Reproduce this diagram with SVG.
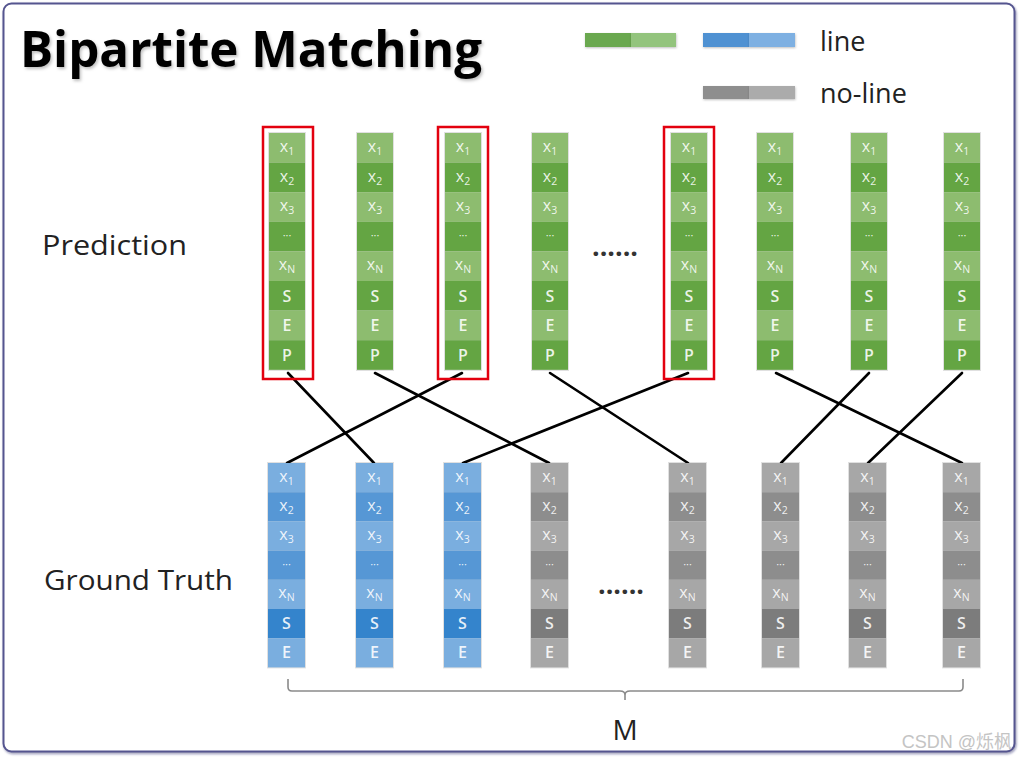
<svg xmlns="http://www.w3.org/2000/svg" width="1019" height="759" viewBox="0 0 1019 759">
<defs>
<filter id="tsh" x="-5%" y="-20%" width="110%" height="150%"><feDropShadow dx="1.5" dy="2" stdDeviation="1.5" flood-color="#000" flood-opacity="0.25"/></filter>
<filter id="lsh" x="-10%" y="-10%" width="120%" height="130%"><feDropShadow dx="0.5" dy="1" stdDeviation="1" flood-color="#000" flood-opacity="0.25"/></filter>
<filter id="bsh" x="-2%" y="-2%" width="104%" height="104%"><feDropShadow dx="1" dy="1.5" stdDeviation="1" flood-color="#1c1c5a" flood-opacity="0.45"/></filter>
</defs>
<style>
.sans{font-family:"Open Sans","Liberation Sans",sans-serif}
.title{font-family:"Open Sans","Liberation Sans",sans-serif;font-weight:700;font-size:51px;fill:#000}
.lbl{font-family:"Open Sans","Liberation Sans",sans-serif;font-size:28px;fill:#222}
.leg{font-family:"Open Sans","Liberation Sans",sans-serif;font-size:27px;fill:#222}
.sh{fill:#000;fill-opacity:0.12}
.gL{fill:#8dbc6f}.gD{fill:#64a543}
.bL{fill:#7aaedf}.bD{fill:#5697d5}.bS{fill:#3484cc}
.kL{fill:#a7a7a7}.kD{fill:#8d8d8d}.kS{fill:#7c7c7c}
.ct{font-family:"Open Sans","Liberation Sans",sans-serif;font-size:16px;fill:#fff;fill-opacity:0.88;text-anchor:middle}
.sb{font-size:10.5px}
.b{font-weight:600;font-size:16px}
.dt{font-size:11px}
.red{fill:none;stroke:#e3000f;stroke-width:2.5}
.con{stroke:#000;stroke-width:2.6;stroke-linecap:round;fill:none}
.brace{fill:none;stroke:#8a8a8a;stroke-width:1.6}
</style>
<rect x="0" y="0" width="1019" height="759" fill="#fff"/>
<rect x="3.5" y="3.5" width="1011" height="748" rx="8" fill="#fff" stroke="#54548f" stroke-width="2" filter="url(#bsh)"/>

<g id="title"><text class="title" x="20" y="67" textLength="462" lengthAdjust="spacingAndGlyphs" filter="url(#tsh)">Bipartite Matching</text></g>

<g id="legend">
<rect x="585" y="33" width="46" height="14" fill="#6aa84f" filter="url(#lsh)"/><rect x="631" y="33" width="45" height="14" fill="#93c47d" filter="url(#lsh)"/>
<rect x="703" y="33" width="46" height="14" fill="#4f91d2" filter="url(#lsh)"/><rect x="749" y="33" width="46" height="14" fill="#7eb0e2" filter="url(#lsh)"/>
<rect x="703" y="86" width="46" height="13" fill="#8e8e8e" filter="url(#lsh)"/><rect x="749" y="86" width="46" height="13" fill="#ababab" filter="url(#lsh)"/>
<text class="leg" x="820" y="51">line</text>
<text class="leg" x="820" y="103">no-line</text>
</g>

<g id="label-prediction"><text class="lbl" x="42" y="255" textLength="145" lengthAdjust="spacingAndGlyphs">Prediction</text></g>
<g id="label-gt"><text class="lbl" x="44" y="590" textLength="189" lengthAdjust="spacingAndGlyphs">Ground Truth</text></g>
<g id="dots-pred"><text class="sans" x="592" y="256" font-size="26" font-weight="700" fill="#333" textLength="46" lengthAdjust="spacingAndGlyphs">......</text></g>
<g id="dots-gt"><text class="sans" x="598" y="594" font-size="26" font-weight="700" fill="#333" textLength="46" lengthAdjust="spacingAndGlyphs">......</text></g>

<g id="connectors">
<line class="con" x1="288" y1="373" x2="374" y2="463"/>
<line class="con" x1="375" y1="373" x2="549" y2="463"/>
<line class="con" x1="462" y1="373" x2="287" y2="463"/>
<line class="con" x1="550" y1="373" x2="688" y2="463"/>
<line class="con" x1="688" y1="373" x2="463" y2="463"/>
<line class="con" x1="776" y1="373" x2="962" y2="463"/>
<line class="con" x1="869" y1="373" x2="781" y2="463"/>
<line class="con" x1="962" y1="373" x2="868" y2="463"/>
</g>

<g id="pred1" transform="translate(269,133)">
<rect class="sh" x="-1" y="-1" width="38" height="239"/>
<rect class="gL" y="0" width="36" height="29.6"/><rect class="gD" y="29.6" width="36" height="29.6"/><rect class="gL" y="59.2" width="36" height="29.6"/><rect class="gD" y="88.8" width="36" height="29.6"/><rect class="gL" y="118.4" width="36" height="29.6"/><rect class="gD" y="148" width="36" height="29.6"/><rect class="gL" y="177.6" width="36" height="29.6"/><rect class="gD" y="207.2" width="36" height="29.6"/>
<text class="ct" x="18" y="19">x<tspan class="sb" dy="3">1</tspan></text><text class="ct" x="18" y="48.6">x<tspan class="sb" dy="3">2</tspan></text><text class="ct" x="18" y="78.2">x<tspan class="sb" dy="3">3</tspan></text><text class="ct dt" x="18" y="106">···</text><text class="ct" x="18" y="137.4">x<tspan class="sb" dy="3">N</tspan></text><text class="ct b" x="18" y="168.5">S</text><text class="ct b" x="18" y="198">E</text><text class="ct b" x="18" y="227.6">P</text>
</g>
<g id="pred2" transform="translate(357,133)">
<rect class="sh" x="-1" y="-1" width="38" height="239"/>
<rect class="gL" y="0" width="36" height="29.6"/><rect class="gD" y="29.6" width="36" height="29.6"/><rect class="gL" y="59.2" width="36" height="29.6"/><rect class="gD" y="88.8" width="36" height="29.6"/><rect class="gL" y="118.4" width="36" height="29.6"/><rect class="gD" y="148" width="36" height="29.6"/><rect class="gL" y="177.6" width="36" height="29.6"/><rect class="gD" y="207.2" width="36" height="29.6"/>
<text class="ct" x="18" y="19">x<tspan class="sb" dy="3">1</tspan></text><text class="ct" x="18" y="48.6">x<tspan class="sb" dy="3">2</tspan></text><text class="ct" x="18" y="78.2">x<tspan class="sb" dy="3">3</tspan></text><text class="ct dt" x="18" y="106">···</text><text class="ct" x="18" y="137.4">x<tspan class="sb" dy="3">N</tspan></text><text class="ct b" x="18" y="168.5">S</text><text class="ct b" x="18" y="198">E</text><text class="ct b" x="18" y="227.6">P</text>
</g>
<g id="pred3" transform="translate(445,133)">
<rect class="sh" x="-1" y="-1" width="38" height="239"/>
<rect class="gL" y="0" width="36" height="29.6"/><rect class="gD" y="29.6" width="36" height="29.6"/><rect class="gL" y="59.2" width="36" height="29.6"/><rect class="gD" y="88.8" width="36" height="29.6"/><rect class="gL" y="118.4" width="36" height="29.6"/><rect class="gD" y="148" width="36" height="29.6"/><rect class="gL" y="177.6" width="36" height="29.6"/><rect class="gD" y="207.2" width="36" height="29.6"/>
<text class="ct" x="18" y="19">x<tspan class="sb" dy="3">1</tspan></text><text class="ct" x="18" y="48.6">x<tspan class="sb" dy="3">2</tspan></text><text class="ct" x="18" y="78.2">x<tspan class="sb" dy="3">3</tspan></text><text class="ct dt" x="18" y="106">···</text><text class="ct" x="18" y="137.4">x<tspan class="sb" dy="3">N</tspan></text><text class="ct b" x="18" y="168.5">S</text><text class="ct b" x="18" y="198">E</text><text class="ct b" x="18" y="227.6">P</text>
</g>
<g id="pred4" transform="translate(532,133)">
<rect class="sh" x="-1" y="-1" width="38" height="239"/>
<rect class="gL" y="0" width="36" height="29.6"/><rect class="gD" y="29.6" width="36" height="29.6"/><rect class="gL" y="59.2" width="36" height="29.6"/><rect class="gD" y="88.8" width="36" height="29.6"/><rect class="gL" y="118.4" width="36" height="29.6"/><rect class="gD" y="148" width="36" height="29.6"/><rect class="gL" y="177.6" width="36" height="29.6"/><rect class="gD" y="207.2" width="36" height="29.6"/>
<text class="ct" x="18" y="19">x<tspan class="sb" dy="3">1</tspan></text><text class="ct" x="18" y="48.6">x<tspan class="sb" dy="3">2</tspan></text><text class="ct" x="18" y="78.2">x<tspan class="sb" dy="3">3</tspan></text><text class="ct dt" x="18" y="106">···</text><text class="ct" x="18" y="137.4">x<tspan class="sb" dy="3">N</tspan></text><text class="ct b" x="18" y="168.5">S</text><text class="ct b" x="18" y="198">E</text><text class="ct b" x="18" y="227.6">P</text>
</g>
<g id="pred5" transform="translate(671,133)">
<rect class="sh" x="-1" y="-1" width="38" height="239"/>
<rect class="gL" y="0" width="36" height="29.6"/><rect class="gD" y="29.6" width="36" height="29.6"/><rect class="gL" y="59.2" width="36" height="29.6"/><rect class="gD" y="88.8" width="36" height="29.6"/><rect class="gL" y="118.4" width="36" height="29.6"/><rect class="gD" y="148" width="36" height="29.6"/><rect class="gL" y="177.6" width="36" height="29.6"/><rect class="gD" y="207.2" width="36" height="29.6"/>
<text class="ct" x="18" y="19">x<tspan class="sb" dy="3">1</tspan></text><text class="ct" x="18" y="48.6">x<tspan class="sb" dy="3">2</tspan></text><text class="ct" x="18" y="78.2">x<tspan class="sb" dy="3">3</tspan></text><text class="ct dt" x="18" y="106">···</text><text class="ct" x="18" y="137.4">x<tspan class="sb" dy="3">N</tspan></text><text class="ct b" x="18" y="168.5">S</text><text class="ct b" x="18" y="198">E</text><text class="ct b" x="18" y="227.6">P</text>
</g>
<g id="pred6" transform="translate(757,133)">
<rect class="sh" x="-1" y="-1" width="38" height="239"/>
<rect class="gL" y="0" width="36" height="29.6"/><rect class="gD" y="29.6" width="36" height="29.6"/><rect class="gL" y="59.2" width="36" height="29.6"/><rect class="gD" y="88.8" width="36" height="29.6"/><rect class="gL" y="118.4" width="36" height="29.6"/><rect class="gD" y="148" width="36" height="29.6"/><rect class="gL" y="177.6" width="36" height="29.6"/><rect class="gD" y="207.2" width="36" height="29.6"/>
<text class="ct" x="18" y="19">x<tspan class="sb" dy="3">1</tspan></text><text class="ct" x="18" y="48.6">x<tspan class="sb" dy="3">2</tspan></text><text class="ct" x="18" y="78.2">x<tspan class="sb" dy="3">3</tspan></text><text class="ct dt" x="18" y="106">···</text><text class="ct" x="18" y="137.4">x<tspan class="sb" dy="3">N</tspan></text><text class="ct b" x="18" y="168.5">S</text><text class="ct b" x="18" y="198">E</text><text class="ct b" x="18" y="227.6">P</text>
</g>
<g id="pred7" transform="translate(851,133)">
<rect class="sh" x="-1" y="-1" width="38" height="239"/>
<rect class="gL" y="0" width="36" height="29.6"/><rect class="gD" y="29.6" width="36" height="29.6"/><rect class="gL" y="59.2" width="36" height="29.6"/><rect class="gD" y="88.8" width="36" height="29.6"/><rect class="gL" y="118.4" width="36" height="29.6"/><rect class="gD" y="148" width="36" height="29.6"/><rect class="gL" y="177.6" width="36" height="29.6"/><rect class="gD" y="207.2" width="36" height="29.6"/>
<text class="ct" x="18" y="19">x<tspan class="sb" dy="3">1</tspan></text><text class="ct" x="18" y="48.6">x<tspan class="sb" dy="3">2</tspan></text><text class="ct" x="18" y="78.2">x<tspan class="sb" dy="3">3</tspan></text><text class="ct dt" x="18" y="106">···</text><text class="ct" x="18" y="137.4">x<tspan class="sb" dy="3">N</tspan></text><text class="ct b" x="18" y="168.5">S</text><text class="ct b" x="18" y="198">E</text><text class="ct b" x="18" y="227.6">P</text>
</g>
<g id="pred8" transform="translate(944,133)">
<rect class="sh" x="-1" y="-1" width="38" height="239"/>
<rect class="gL" y="0" width="36" height="29.6"/><rect class="gD" y="29.6" width="36" height="29.6"/><rect class="gL" y="59.2" width="36" height="29.6"/><rect class="gD" y="88.8" width="36" height="29.6"/><rect class="gL" y="118.4" width="36" height="29.6"/><rect class="gD" y="148" width="36" height="29.6"/><rect class="gL" y="177.6" width="36" height="29.6"/><rect class="gD" y="207.2" width="36" height="29.6"/>
<text class="ct" x="18" y="19">x<tspan class="sb" dy="3">1</tspan></text><text class="ct" x="18" y="48.6">x<tspan class="sb" dy="3">2</tspan></text><text class="ct" x="18" y="78.2">x<tspan class="sb" dy="3">3</tspan></text><text class="ct dt" x="18" y="106">···</text><text class="ct" x="18" y="137.4">x<tspan class="sb" dy="3">N</tspan></text><text class="ct b" x="18" y="168.5">S</text><text class="ct b" x="18" y="198">E</text><text class="ct b" x="18" y="227.6">P</text>
</g>

<g id="highlights">
<rect class="red" x="263" y="127" width="50" height="252"/>
<rect class="red" x="438" y="127" width="50" height="252"/>
<rect class="red" x="664" y="127" width="50" height="252"/>
</g>

<g id="gt1" transform="translate(268,463)">
<rect class="sh" x="-1" y="-1" width="39" height="206.4"/>
<rect class="bL" y="0" width="37" height="29.2"/><rect class="bD" y="29.2" width="37" height="29.2"/><rect class="bL" y="58.4" width="37" height="29.2"/><rect class="bD" y="87.6" width="37" height="29.2"/><rect class="bL" y="116.8" width="37" height="29.2"/><rect class="bS" y="146" width="37" height="29.2"/><rect class="bL" y="175.2" width="37" height="29.2"/>
<text class="ct" x="18.5" y="18.6">x<tspan class="sb" dy="3">1</tspan></text><text class="ct" x="18.5" y="47.8">x<tspan class="sb" dy="3">2</tspan></text><text class="ct" x="18.5" y="77">x<tspan class="sb" dy="3">3</tspan></text><text class="ct dt" x="18.5" y="104.5">···</text><text class="ct" x="18.5" y="135.4">x<tspan class="sb" dy="3">N</tspan></text><text class="ct b" x="18.5" y="166">S</text><text class="ct b" x="18.5" y="195">E</text>
</g>
<g id="gt2" transform="translate(356,463)">
<rect class="sh" x="-1" y="-1" width="39" height="206.4"/>
<rect class="bL" y="0" width="37" height="29.2"/><rect class="bD" y="29.2" width="37" height="29.2"/><rect class="bL" y="58.4" width="37" height="29.2"/><rect class="bD" y="87.6" width="37" height="29.2"/><rect class="bL" y="116.8" width="37" height="29.2"/><rect class="bS" y="146" width="37" height="29.2"/><rect class="bL" y="175.2" width="37" height="29.2"/>
<text class="ct" x="18.5" y="18.6">x<tspan class="sb" dy="3">1</tspan></text><text class="ct" x="18.5" y="47.8">x<tspan class="sb" dy="3">2</tspan></text><text class="ct" x="18.5" y="77">x<tspan class="sb" dy="3">3</tspan></text><text class="ct dt" x="18.5" y="104.5">···</text><text class="ct" x="18.5" y="135.4">x<tspan class="sb" dy="3">N</tspan></text><text class="ct b" x="18.5" y="166">S</text><text class="ct b" x="18.5" y="195">E</text>
</g>
<g id="gt3" transform="translate(444,463)">
<rect class="sh" x="-1" y="-1" width="39" height="206.4"/>
<rect class="bL" y="0" width="37" height="29.2"/><rect class="bD" y="29.2" width="37" height="29.2"/><rect class="bL" y="58.4" width="37" height="29.2"/><rect class="bD" y="87.6" width="37" height="29.2"/><rect class="bL" y="116.8" width="37" height="29.2"/><rect class="bS" y="146" width="37" height="29.2"/><rect class="bL" y="175.2" width="37" height="29.2"/>
<text class="ct" x="18.5" y="18.6">x<tspan class="sb" dy="3">1</tspan></text><text class="ct" x="18.5" y="47.8">x<tspan class="sb" dy="3">2</tspan></text><text class="ct" x="18.5" y="77">x<tspan class="sb" dy="3">3</tspan></text><text class="ct dt" x="18.5" y="104.5">···</text><text class="ct" x="18.5" y="135.4">x<tspan class="sb" dy="3">N</tspan></text><text class="ct b" x="18.5" y="166">S</text><text class="ct b" x="18.5" y="195">E</text>
</g>
<g id="gt4" transform="translate(531,463)">
<rect class="sh" x="-1" y="-1" width="39" height="206.4"/>
<rect class="kL" y="0" width="37" height="29.2"/><rect class="kD" y="29.2" width="37" height="29.2"/><rect class="kL" y="58.4" width="37" height="29.2"/><rect class="kD" y="87.6" width="37" height="29.2"/><rect class="kL" y="116.8" width="37" height="29.2"/><rect class="kS" y="146" width="37" height="29.2"/><rect class="kL" y="175.2" width="37" height="29.2"/>
<text class="ct" x="18.5" y="18.6">x<tspan class="sb" dy="3">1</tspan></text><text class="ct" x="18.5" y="47.8">x<tspan class="sb" dy="3">2</tspan></text><text class="ct" x="18.5" y="77">x<tspan class="sb" dy="3">3</tspan></text><text class="ct dt" x="18.5" y="104.5">···</text><text class="ct" x="18.5" y="135.4">x<tspan class="sb" dy="3">N</tspan></text><text class="ct b" x="18.5" y="166">S</text><text class="ct b" x="18.5" y="195">E</text>
</g>
<g id="gt5" transform="translate(669,463)">
<rect class="sh" x="-1" y="-1" width="39" height="206.4"/>
<rect class="kL" y="0" width="37" height="29.2"/><rect class="kD" y="29.2" width="37" height="29.2"/><rect class="kL" y="58.4" width="37" height="29.2"/><rect class="kD" y="87.6" width="37" height="29.2"/><rect class="kL" y="116.8" width="37" height="29.2"/><rect class="kS" y="146" width="37" height="29.2"/><rect class="kL" y="175.2" width="37" height="29.2"/>
<text class="ct" x="18.5" y="18.6">x<tspan class="sb" dy="3">1</tspan></text><text class="ct" x="18.5" y="47.8">x<tspan class="sb" dy="3">2</tspan></text><text class="ct" x="18.5" y="77">x<tspan class="sb" dy="3">3</tspan></text><text class="ct dt" x="18.5" y="104.5">···</text><text class="ct" x="18.5" y="135.4">x<tspan class="sb" dy="3">N</tspan></text><text class="ct b" x="18.5" y="166">S</text><text class="ct b" x="18.5" y="195">E</text>
</g>
<g id="gt6" transform="translate(762,463)">
<rect class="sh" x="-1" y="-1" width="39" height="206.4"/>
<rect class="kL" y="0" width="37" height="29.2"/><rect class="kD" y="29.2" width="37" height="29.2"/><rect class="kL" y="58.4" width="37" height="29.2"/><rect class="kD" y="87.6" width="37" height="29.2"/><rect class="kL" y="116.8" width="37" height="29.2"/><rect class="kS" y="146" width="37" height="29.2"/><rect class="kL" y="175.2" width="37" height="29.2"/>
<text class="ct" x="18.5" y="18.6">x<tspan class="sb" dy="3">1</tspan></text><text class="ct" x="18.5" y="47.8">x<tspan class="sb" dy="3">2</tspan></text><text class="ct" x="18.5" y="77">x<tspan class="sb" dy="3">3</tspan></text><text class="ct dt" x="18.5" y="104.5">···</text><text class="ct" x="18.5" y="135.4">x<tspan class="sb" dy="3">N</tspan></text><text class="ct b" x="18.5" y="166">S</text><text class="ct b" x="18.5" y="195">E</text>
</g>
<g id="gt7" transform="translate(849,463)">
<rect class="sh" x="-1" y="-1" width="39" height="206.4"/>
<rect class="kL" y="0" width="37" height="29.2"/><rect class="kD" y="29.2" width="37" height="29.2"/><rect class="kL" y="58.4" width="37" height="29.2"/><rect class="kD" y="87.6" width="37" height="29.2"/><rect class="kL" y="116.8" width="37" height="29.2"/><rect class="kS" y="146" width="37" height="29.2"/><rect class="kL" y="175.2" width="37" height="29.2"/>
<text class="ct" x="18.5" y="18.6">x<tspan class="sb" dy="3">1</tspan></text><text class="ct" x="18.5" y="47.8">x<tspan class="sb" dy="3">2</tspan></text><text class="ct" x="18.5" y="77">x<tspan class="sb" dy="3">3</tspan></text><text class="ct dt" x="18.5" y="104.5">···</text><text class="ct" x="18.5" y="135.4">x<tspan class="sb" dy="3">N</tspan></text><text class="ct b" x="18.5" y="166">S</text><text class="ct b" x="18.5" y="195">E</text>
</g>
<g id="gt8" transform="translate(943,463)">
<rect class="sh" x="-1" y="-1" width="39" height="206.4"/>
<rect class="kL" y="0" width="37" height="29.2"/><rect class="kD" y="29.2" width="37" height="29.2"/><rect class="kL" y="58.4" width="37" height="29.2"/><rect class="kD" y="87.6" width="37" height="29.2"/><rect class="kL" y="116.8" width="37" height="29.2"/><rect class="kS" y="146" width="37" height="29.2"/><rect class="kL" y="175.2" width="37" height="29.2"/>
<text class="ct" x="18.5" y="18.6">x<tspan class="sb" dy="3">1</tspan></text><text class="ct" x="18.5" y="47.8">x<tspan class="sb" dy="3">2</tspan></text><text class="ct" x="18.5" y="77">x<tspan class="sb" dy="3">3</tspan></text><text class="ct dt" x="18.5" y="104.5">···</text><text class="ct" x="18.5" y="135.4">x<tspan class="sb" dy="3">N</tspan></text><text class="ct b" x="18.5" y="166">S</text><text class="ct b" x="18.5" y="195">E</text>
</g>

<g id="brace">
<path class="brace" d="M288,679 L288,687 Q288,691 292,691 L620,691 Q625,691 625,695 L625,700 M625,695 Q625,691 630,691 L959,691 Q963,691 963,687 L963,679"/>
<text class="sans" x="625" y="740" font-size="28" fill="#222" text-anchor="middle">M</text>
</g>

<g id="watermark"><text x="1012" y="748" font-family="'Liberation Sans','Noto Sans CJK SC',sans-serif" font-size="18" fill="#c4c4c4" text-anchor="end">CSDN @烁枫</text></g>
</svg>
